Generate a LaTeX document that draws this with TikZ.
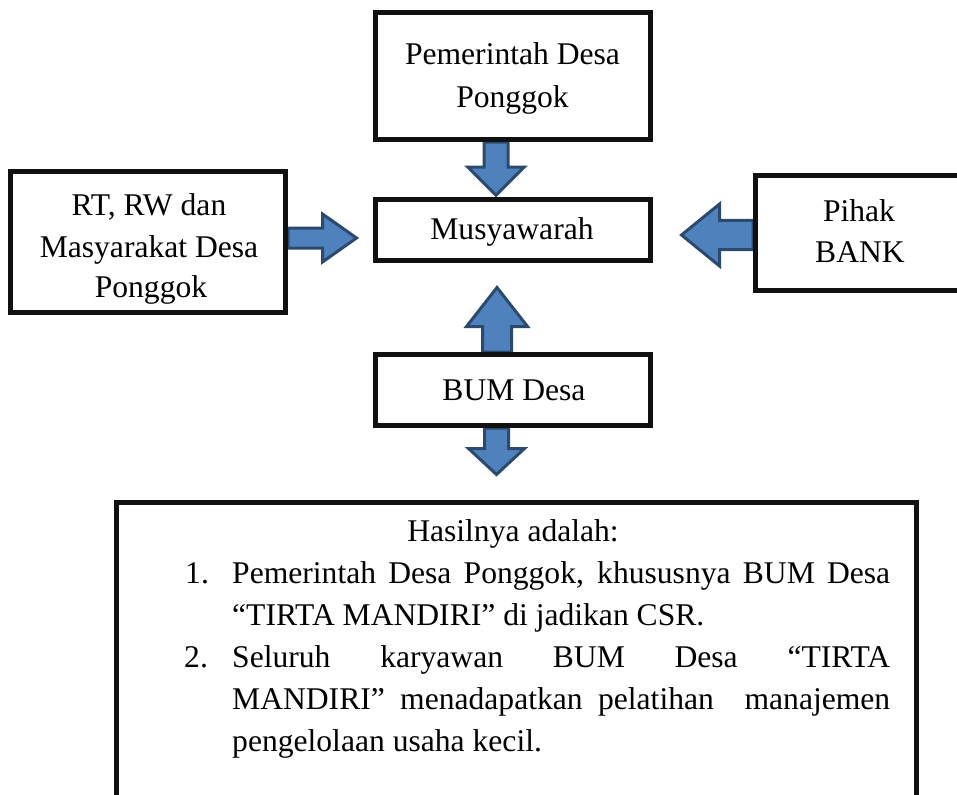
\documentclass[tikz,border=0pt]{standalone}
\usepackage{fontspec}
\setmainfont{Liberation Serif}
\usetikzlibrary{calc,backgrounds}
\definecolor{arrfill}{HTML}{4F81BD}
\definecolor{arrline}{HTML}{2C4A6E}
\definecolor{boxline}{HTML}{111111}
\tikzset{
  box/.style={draw=boxline, line width=5pt, fill=white, inner sep=0pt},
  txt/.style={inner sep=0pt, anchor=base, font=\fontsize{31.6}{42}\selectfont},
  txtl/.style={txt, anchor=base west},
  barrow/.style={fill=arrfill, draw=arrline, line width=3pt, line join=miter},
  pics/blockarrow/.style n args={4}{code={
    \path[barrow] (-#1,0) -- (-#1,#3) -- (-#2,#3) -- (0,#3+#4) -- (#2,#3) -- (#1,#3) -- (#1,0) -- cycle;}}
}
\begin{document}
\begin{tikzpicture}[x=1pt,y=-1pt]
\useasboundingbox (0,0) rectangle (957,794);
\clip (0,0) rectangle (957,794);
% boxes
\node[box, minimum width=275pt, minimum height=127.5pt] (pem) at (513,76) {};
\node[box, minimum width=275pt, minimum height=60.5pt] (mus) at (513,230) {};
\node[box, minimum width=275pt, minimum height=140pt] (lb) at (148,242) {};
\node[box, minimum width=209pt, minimum height=115pt] (bank) at (860,233) {};
\node[box, minimum width=274.5pt, minimum height=71pt] (bum) at (513,390) {};
\node[box, anchor=north west, minimum width=800.5pt, minimum height=400pt] (res) at (113.5,499.5) {};
% arrows
\begin{pgfonlayer}{background}
\pic at ($(pem.south)+(-17,0)$) {blockarrow={12}{28}{25}{28}};
\pic[rotate=90] at ($(lb.east)+(0,-4)$) {blockarrow={10}{24}{34.5}{34}};
\pic[rotate=-90] at ($(bank.west)+(0,2)$) {blockarrow={14.5}{31}{33.5}{38}};
\pic[rotate=180] at ($(bum.north)+(-16,0)$) {blockarrow={14.5}{30.5}{25.5}{39}};
\pic at ($(bum.south)+(-16.5,0)$) {blockarrow={12}{28}{20.5}{26}};
\end{pgfonlayer}
% texts
\node[txt] (pem1) at (512.5,65) {Pemerintah Desa};
\node[txt] (pem2) at (512.5,108) {Ponggok};
\node[txt] (must) at (512,239.5) {Musyawarah};
\node[txt] (lb1) at (149,215) {RT, RW dan};
\node[txt] (lb2) at (149,257) {Masyarakat Desa};
\begin{scope}
\clip (10,265) rectangle (286,306);
\node[txt] (lb3) at (151,297) {Ponggok};
\end{scope}
\node[txt] (bank1) at (859,222) {Pihak};
\node[txt] (bank2) at (860,262) {BANK};
\node[txt] (bumt) at (514,400) {BUM Desa};
\node[txt] (hasil) at (513,541) {Hasilnya adalah:};
\node[txtl] (n1) at (185,583) {1.};
\node[txtl] (r1) at (232,583) {\makebox[658pt][s]{Pemerintah Desa Ponggok, khususnya BUM Desa}};
\node[txtl] (r2) at (232,625) {“TIRTA MANDIRI” di jadikan CSR.};
\node[txtl] (n2) at (184,667) {2.};
\node[txtl] (r3) at (232,667) {\makebox[658pt][s]{Seluruh karyawan BUM Desa “TIRTA}};
\node[txtl] (r4) at (232,709) {\makebox[658pt][s]{MANDIRI” menadapatkan pelatihan~ manajemen}};
\node[txtl] (r5) at (232,751) {pengelolaan usaha kecil.};
\end{tikzpicture}
\end{document}
